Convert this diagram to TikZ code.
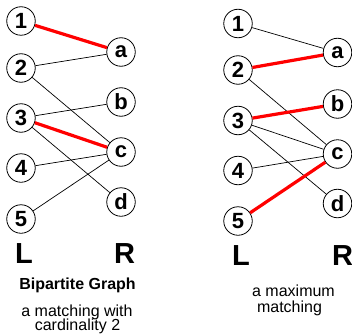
\documentclass[tikz,border=0pt]{standalone}
\usepackage{fontspec}
\setmainfont{Liberation Sans}
\begin{document}
\begin{tikzpicture}[x=1pt,y=-1pt,
  vert/.style={circle,draw,line width=0.8pt,inner sep=0pt,minimum size=28.5pt,
    font=\fontsize{22}{22}\selectfont\bfseries},
  plain/.style={line width=0.7pt},
  matched/.style={line width=3.2pt,red},
  sidelabel/.style={anchor=base,inner sep=0pt,font=\fontsize{29}{29}\selectfont\bfseries},
  titletext/.style={anchor=base,inner sep=0pt,font=\fontsize{16}{16}\selectfont\bfseries},
  capt/.style={anchor=base,inner sep=0pt,font=\fontsize{16}{16}\selectfont}]
\useasboundingbox (0,0) rectangle (352,334);

% left graph
\node[vert] (l1) at (21,21) {1};
\node[vert] (l2) at (21,68) {2};
\node[vert] (l3) at (21,118) {3};
\node[vert] (l4) at (21,168) {4};
\node[vert] (l5) at (21,219) {5};
\node[vert] (la) at (121,52) {a};
\node[vert] (lb) at (121,102) {b};
\node[vert] (lc) at (121,152) {c};
\node[vert] (ld) at (121,202) {d};
\draw[plain] (l2) -- (la);
\draw[plain] (l2) -- (lc);
\draw[plain] (l3) -- (lb);
\draw[plain] (l3) -- (ld);
\draw[plain] (l4) -- (lc);
\draw[plain] (l5) -- (lc);
\draw[matched] (l1) -- (la);
\draw[matched] (l3) -- (lc);
\node[sidelabel] (lL) at (24,263.3) {L};
\node[sidelabel] (lR) at (124.5,263.3) {R};
\node[titletext] (ttl) at (77.5,289.3) {Bipartite Graph};
\node[capt] (c1) at (77,316.5) {a matching with};
\node[capt] (c2) at (77.5,330.5) {cardinality 2};

% right graph
\node[vert] (m1) at (238,23.5) {1};
\node[vert] (m2) at (238,70) {2};
\node[vert] (m3) at (238,120.5) {3};
\node[vert] (m4) at (238,170.5) {4};
\node[vert] (m5) at (238,221) {5};
\node[vert] (ma) at (337.5,52.5) {a};
\node[vert] (mb) at (337.5,104) {b};
\node[vert] (mc) at (337.5,154) {c};
\node[vert] (md) at (337.5,203.5) {d};
\draw[plain] (m1) -- (ma);
\draw[plain] (m2) -- (mc);
\draw[plain] (m3) -- (mc);
\draw[plain] (m3) -- (md);
\draw[plain] (m4) -- (mc);
\draw[matched] (m2) -- (ma);
\draw[matched] (m3) -- (mb);
\draw[matched] (m5) -- (mc);
\node[sidelabel] (mL) at (241,265) {L};
\node[sidelabel] (mR) at (342.5,265) {R};
\node[capt] (c3) at (293.5,296.7) {a maximum};
\node[capt] (c4) at (289.5,312.3) {matching};
\end{tikzpicture}
\end{document}
